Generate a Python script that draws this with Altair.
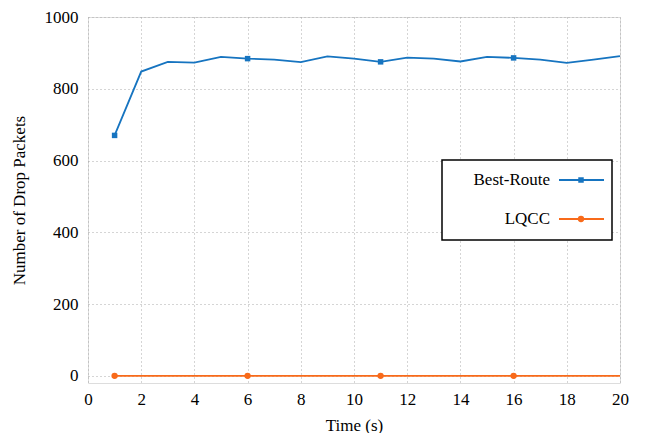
import altair as alt
import pandas as pd

time_s = list(range(1, 21))
best_route = [670, 848, 875, 873, 889, 884, 881, 874, 890, 884,
              875, 887, 884, 876, 889, 886, 881, 872, 881, 891]
lqcc = [0] * 20
series_names = ["Best-Route", "LQCC"]
colors = ["#1674c0", "#f86a1a"]
marker_shapes = ["square", "circle"]
marker_times = [1, 6, 11, 16]
x_ticks = list(range(0, 21, 2))
y_ticks = [0, 200, 400, 600, 800, 1000]

rows = []
for t, b, l in zip(time_s, best_route, lqcc):
    rows.append({"t": t, "v": b, "s": "Best-Route"})
    rows.append({"t": t, "v": l, "s": "LQCC"})
df = pd.DataFrame(rows)
df_m = df[df["t"].isin(marker_times)]

FONT = "Liberation Serif"
xs = alt.Scale(domain=[0, 20], nice=False)
ys = alt.Scale(domain=[-20, 1000], nice=False)
cs = alt.Scale(domain=series_names, range=colors)

x_enc = alt.X("t:Q", scale=xs, title="Time (s)",
              axis=alt.Axis(values=x_ticks, format="d",
                            labelPadding=8, titlePadding=10))
y_enc = alt.Y("v:Q", scale=ys, title="Number of Drop Packets",
              axis=alt.Axis(values=y_ticks, format="d",
                            labelPadding=10, titlePadding=16))

lines = alt.Chart(df).mark_line(strokeWidth=1.8).encode(
    x=x_enc, y=y_enc,
    color=alt.Color("s:N", scale=cs, legend=None),
    detail="s:N",
)

pts_sq = alt.Chart(df_m[df_m["s"] == "Best-Route"]).mark_point(
    shape="square", filled=True, size=30, opacity=1).encode(
    x="t:Q", y="v:Q", color=alt.Color("s:N", scale=cs, legend=None))
pts_ci = alt.Chart(df_m[df_m["s"] == "LQCC"]).mark_point(
    shape="circle", filled=True, size=40, opacity=1).encode(
    x="t:Q", y="v:Q", color=alt.Color("s:N", scale=cs, legend=None))

# manual legend (gnuplot-style: label on the left, line sample on the right)
leg_df = pd.DataFrame({"s": series_names})
box = alt.Chart(leg_df.head(1)).mark_rect(fill="white", stroke="black", strokeWidth=1.5).encode(
    x=alt.value(354), x2=alt.value(524), y=alt.value(143), y2=alt.value(223))

leg_layers = [box]
for i, name in enumerate(series_names):
    sub = leg_df[leg_df["s"] == name]
    yy = 163 + i * 39
    leg_layers.append(alt.Chart(sub).mark_text(
        align="right", baseline="middle", font=FONT, fontSize=17, color="black").encode(
        x=alt.value(462), y=alt.value(yy), text="s:N"))
    leg_layers.append(alt.Chart(sub).mark_rule(strokeWidth=1.8, color=colors[i]).encode(
        x=alt.value(471), x2=alt.value(516), y=alt.value(yy)))
    leg_layers.append(alt.Chart(sub).mark_point(
        shape=marker_shapes[i], filled=True, size=30 if i == 0 else 40, opacity=1,
        color=colors[i]).encode(x=alt.value(493), y=alt.value(yy)))

chart = alt.layer(lines, pts_sq, pts_ci, *leg_layers).properties(
    width=532, height=366,
    autosize=alt.AutoSizeParams(type="none"),
    padding={"left": 80, "top": 9, "right": 10, "bottom": 50},
).configure_view(stroke="black", strokeWidth=1.5).configure(
    background="white"
).configure_axis(
    labelFont=FONT, titleFont=FONT, labelFontSize=17, titleFontSize=17,
    titleFontWeight="normal", labelColor="black", titleColor="black",
    domain=False, ticks=False, grid=True, gridDash=[1, 3], gridColor="#aaaaaa",
    labelFlush=False,
)

chart.save("out.html", embed_options={"renderer": "svg", "actions": False})
